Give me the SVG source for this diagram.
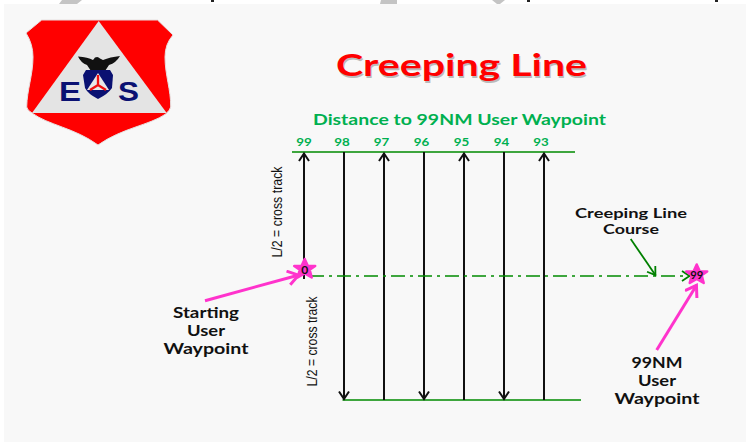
<svg xmlns="http://www.w3.org/2000/svg" width="746" height="442" viewBox="0 0 746 442">
<defs>
<style>
.t{font-family:"Lato","Open Sans","Liberation Sans",sans-serif;font-weight:700;text-anchor:middle}
.lab{font-size:15px;fill:#111}
.num{font-size:12px;fill:#00B050}
.rot{font-family:"Liberation Sans",Arial,sans-serif;font-size:14px;fill:#111}
.trk{stroke:#111;stroke-width:2;fill:none}
.edge{stroke:#008a00;stroke-width:1.600;fill:none}
.star{fill:#ff33cc;stroke:#ff33cc;stroke-width:2.500;stroke-linejoin:round}
</style>
<marker id="ah" markerUnits="userSpaceOnUse" markerWidth="14" markerHeight="14" refX="11" refY="6" orient="auto"><path d="M3 1L10.500 6L3 11" fill="none" stroke="#111" stroke-width="2"/></marker>
<marker id="ag" markerUnits="userSpaceOnUse" markerWidth="14" markerHeight="14" refX="11" refY="6" orient="auto"><path d="M3 1L10.500 6L3 11" fill="none" stroke="#008000" stroke-width="1.800"/></marker>
<marker id="am" markerUnits="userSpaceOnUse" markerWidth="18" markerHeight="18" refX="14" refY="8" orient="auto"><path d="M3 1L13.500 8L3 15" fill="none" stroke="#ff33cc" stroke-width="3"/></marker>
<path id="s5" d="M0-11L3.200-4H10.500L5-.3L7 7.500L0 3.500L-7 7.500L-5-.3L-10.500-4H-3.200Z"/>
</defs>
<rect width="746" height="442" fill="#fff"/>
<rect x="4" y="4" width="742" height="438" fill="#f8f8f8"/>
<g id="top-strip">
<path d="M62 0H82L77 4H59Z M381 0H397V4H380Z M492 0H505L500 4H497Z" fill="#c4c4c4"/>
<path d="M211 0H214V2H211Z M527 0H530V2H527Z M715 0H718V2H715Z" fill="#222"/>
</g>
<g id="logo">
<path d="M41.700 20H157.500L173 35Q165 44 165 57C165 75 171 90 170.700 107Q170 110 165.700 114C150 125 122 128 98 145C75 128 48 125 32 113Q27 110 26.700 107C27 90 33 75 33 57Q33 44 26 33Z" fill="#ff0000" stroke="#e6e0e0" stroke-width="1"/>
<path d="M98.700 21L166.700 113H32Z" fill="#e4e4e4"/>
<path d="M78 56.500Q88 57 93 60L95 57.500Q98 56 100 58.500L103 60Q110 57 120 56Q116 63 109 65L105 71H91L87 65Q81 63 78 56.500Z" fill="#111"/>
<path d="M86 70H110L113 75L112 88Q108 94 98 99Q88 94 85 88L83 75Z" fill="#0a1172"/>
<path d="M98 73L109 90H87Z" fill="#e8e8e8"/>
<path d="M98 75V85M98 85L90 90M98 85L106 90" stroke="#f01010" stroke-width="2.300" fill="none"/>
<text x="70" y="100.500" font-family="Liberation Sans,Arial,sans-serif" font-weight="700" font-size="28" fill="#0a1172" text-anchor="middle" textLength="22" lengthAdjust="spacingAndGlyphs">E</text>
<text x="128.500" y="100.500" font-family="Liberation Sans,Arial,sans-serif" font-weight="700" font-size="28" fill="#0a1172" text-anchor="middle" textLength="21" lengthAdjust="spacingAndGlyphs">S</text>
</g>
<g id="title">
<text class="t" x="462.500" y="77.500" font-size="31" fill="#bbb" textLength="251" lengthAdjust="spacingAndGlyphs">Creeping Line</text>
<text class="t" x="461.500" y="76" font-size="31" fill="#ff0000" textLength="251" lengthAdjust="spacingAndGlyphs">Creeping Line</text>
</g>
<g id="subtitle"><text class="t" x="459.500" y="125" font-size="15" fill="#00B050" textLength="293" lengthAdjust="spacingAndGlyphs">Distance to 99NM User Waypoint</text></g>
<g id="distance-labels">
<text class="t num" x="304" y="146" textLength="15.500" lengthAdjust="spacingAndGlyphs">99</text>
<text class="t num" x="342" y="146" textLength="15.500" lengthAdjust="spacingAndGlyphs">98</text>
<text class="t num" x="381.500" y="146" textLength="15.500" lengthAdjust="spacingAndGlyphs">97</text>
<text class="t num" x="421.500" y="146" textLength="15.500" lengthAdjust="spacingAndGlyphs">96</text>
<text class="t num" x="461.500" y="146" textLength="15.500" lengthAdjust="spacingAndGlyphs">95</text>
<text class="t num" x="501.500" y="146" textLength="15.500" lengthAdjust="spacingAndGlyphs">94</text>
<text class="t num" x="541" y="146" textLength="15.500" lengthAdjust="spacingAndGlyphs">93</text>
</g>
<g id="connectors">
<path class="edge" d="M292 152H575M342.500 400H581"/>
<path class="trk" marker-end="url(#ah)" d="M304 279V153"/>
<path class="trk" marker-end="url(#ah)" d="M344 152V399.500"/>
<path class="trk" marker-end="url(#ah)" d="M384 400V153"/>
<path class="trk" marker-end="url(#ah)" d="M424 152V399.500"/>
<path class="trk" marker-end="url(#ah)" d="M464 400V153"/>
<path class="trk" marker-end="url(#ah)" d="M504 152V399.500"/>
<path class="trk" marker-end="url(#ah)" d="M544 400V153"/>
<path d="M310 276H690" stroke="#008a00" stroke-width="1.500" fill="none" stroke-dasharray="14 5 3 5" marker-end="url(#ag)"/>
<path d="M630.700 239L655.700 275.500" stroke="#008000" stroke-width="1.800" fill="none" marker-end="url(#ag)"/>
<path d="M205 300.700L299 275" stroke="#ff33cc" stroke-width="3" fill="none" marker-end="url(#am)"/>
<path d="M656.700 350L696.700 285" stroke="#ff33cc" stroke-width="3" fill="none" marker-end="url(#am)"/>
</g>
<g id="cross-track-upper"><text class="rot" transform="translate(282 257.500) rotate(-90)" textLength="91" lengthAdjust="spacingAndGlyphs">L/2 = cross track</text></g>
<g id="cross-track-lower"><text class="rot" transform="translate(316.500 386.500) rotate(-90)" textLength="90" lengthAdjust="spacingAndGlyphs">L/2 = cross track</text></g>
<g id="start-waypoint">
<use href="#s5" class="star" transform="translate(304.700 270)"/>
<text class="t" x="304.700" y="274" font-size="11" fill="#111" textLength="7" lengthAdjust="spacingAndGlyphs">0</text>
</g>
<g id="end-waypoint">
<use href="#s5" class="star" transform="translate(696.700 275.500)"/>
<text class="t" x="696.700" y="279" font-size="11" fill="#111" textLength="13" lengthAdjust="spacingAndGlyphs">99</text>
</g>
<g id="label-start">
<text class="t lab" x="206" y="318" textLength="66" lengthAdjust="spacingAndGlyphs">Starting</text>
<text class="t lab" x="206" y="336" textLength="38" lengthAdjust="spacingAndGlyphs">User</text>
<text class="t lab" x="206" y="353.500" textLength="85" lengthAdjust="spacingAndGlyphs">Waypoint</text>
</g>
<g id="label-end">
<text class="t lab" x="657" y="368" textLength="51" lengthAdjust="spacingAndGlyphs">99NM</text>
<text class="t lab" x="657" y="386" textLength="38" lengthAdjust="spacingAndGlyphs">User</text>
<text class="t lab" x="657" y="404" textLength="85" lengthAdjust="spacingAndGlyphs">Waypoint</text>
</g>
<g id="label-course">
<text class="t" x="631" y="218" font-size="13.500" fill="#111" textLength="112" lengthAdjust="spacingAndGlyphs">Creeping Line</text>
<text class="t" x="631" y="234" font-size="13.500" fill="#111" textLength="56" lengthAdjust="spacingAndGlyphs">Course</text>
</g>
</svg>
